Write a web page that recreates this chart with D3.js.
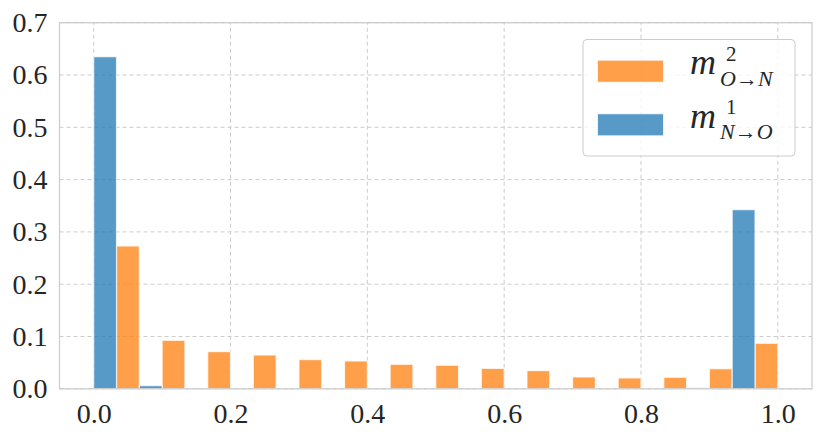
<!DOCTYPE html>
<html>
<head>
<meta charset="utf-8">
<script src="https://cdn.jsdelivr.net/npm/d3@7"></script>
<style>
	body { margin: 0; background: #fff; }
</style>
</head>
<body>
<div id="canvas"></div>
<script>
// 15 equal bins on [0, 1], probability per bin
const binCount = 15;
const blueValues = [0.635, 0.006, 0.0008, 0, 0, 0, 0, 0, 0, 0, 0, 0, 0, 0.002, 0.3425];
const orangeValues = [0.273, 0.0927, 0.0711, 0.0646, 0.0558, 0.0532, 0.0468, 0.045, 0.039, 0.0348, 0.0226, 0.0207, 0.022, 0.0384, 0.087];
const xTicks = [0, 0.2, 0.4, 0.6, 0.8, 1.0];
const yTicks = [0, 0.1, 0.2, 0.3, 0.4, 0.5, 0.6, 0.7];
const legendItems = [
	{ sup: '2', sub: 'O→N', color: '#ff7f0e' },
	{ sup: '1', sub: 'N→O', color: '#1f77b4' }
];

const font = 'Liberation Serif';
const width = 830;
const height = 440;
const margin = { top: 22.7, left: 59.5, bottom: 51.2, right: 18 };

const x = d3.scaleLinear()
	.domain([-0.05, 1.05])
	.range([margin.left, width - margin.right]);

const y = d3.scaleLinear()
	.domain([0, 0.7])
	.range([height - margin.bottom, margin.top]);

const svg = d3.select('#canvas')
	.append('svg')
	.attr('width', width)
	.attr('height', height);

// grid
svg.append('g')
	.selectAll('line')
	.data(yTicks)
	.enter()
	.append('line')
	.attr('x1', x.range()[0])
	.attr('x2', x.range()[1])
	.attr('y1', (d) => y(d))
	.attr('y2', (d) => y(d))
	.attr('stroke', '#cccccc')
	.attr('stroke-width', 1)
	.attr('stroke-dasharray', '4,3');

svg.append('g')
	.selectAll('line')
	.data(xTicks)
	.enter()
	.append('line')
	.attr('x1', (d) => x(d))
	.attr('x2', (d) => x(d))
	.attr('y1', y.range()[0])
	.attr('y2', y.range()[1])
	.attr('stroke', '#cccccc')
	.attr('stroke-width', 1)
	.attr('stroke-dasharray', '4,3');

// dodged bars: blue in left half of each bin, orange in right half
const bins = d3.range(binCount).map((i) => ({
	x0: i / binCount,
	xm: (i + 0.5) / binCount,
	x1: (i + 1) / binCount,
	blue: blueValues[i],
	orange: orangeValues[i]
}));

const bars = svg.append('g');

bars.selectAll('rect.orange')
	.data(bins)
	.enter()
	.append('rect')
	.attr('class', 'orange')
	.attr('x', (d) => x(d.xm))
	.attr('y', (d) => y(d.orange))
	.attr('width', (d) => x(d.x1) - x(d.xm))
	.attr('height', (d) => y(0) - y(d.orange))
	.attr('fill', '#ff7f0e')
	.attr('fill-opacity', 0.75)
	.attr('stroke', '#fff')
	.attr('stroke-opacity', 0.75)
	.attr('stroke-width', 1.2);

bars.selectAll('rect.blue')
	.data(bins.filter((d) => d.blue > 0))
	.enter()
	.append('rect')
	.attr('class', 'blue')
	.attr('x', (d) => x(d.x0))
	.attr('y', (d) => y(d.blue))
	.attr('width', (d) => x(d.xm) - x(d.x0))
	.attr('height', (d) => y(0) - y(d.blue))
	.attr('fill', '#1f77b4')
	.attr('fill-opacity', 0.75)
	.attr('stroke', '#fff')
	.attr('stroke-opacity', 0.75)
	.attr('stroke-width', 1.2);

// frame
svg.append('rect')
	.attr('x', x.range()[0])
	.attr('y', y.range()[1])
	.attr('width', x.range()[1] - x.range()[0])
	.attr('height', y.range()[0] - y.range()[1])
	.attr('fill', 'none')
	.attr('stroke', '#cccccc')
	.attr('stroke-width', 1.25);

// axes
const xAxis = svg.append('g')
	.attr('transform', `translate(0, ${y(0)})`)
	.call(d3.axisBottom(x).tickValues(xTicks).tickFormat(d3.format('.1f')).tickSize(0).tickPadding(14));

const yAxis = svg.append('g')
	.attr('transform', `translate(${x.range()[0]}, 0)`)
	.call(d3.axisLeft(y).tickValues(yTicks).tickFormat(d3.format('.1f')).tickSize(0).tickPadding(12));

[xAxis, yAxis].forEach((a) => {
	a.attr('font-family', null).attr('font-size', null);
	a.select('.domain').remove();
	a.selectAll('text')
		.attr('font-family', font)
		.attr('font-size', 28)
		.attr('fill', '#262626');
});

// legend
const legend = svg.append('g').attr('transform', 'translate(583, 39.5)');

legend.append('rect')
	.attr('width', 212)
	.attr('height', 116.5)
	.attr('rx', 4)
	.attr('fill', '#fff')
	.attr('fill-opacity', 0.8)
	.attr('stroke', '#cccccc')
	.attr('stroke-width', 1);

const rows = legend.selectAll('g.item')
	.data(legendItems)
	.enter()
	.append('g')
	.attr('class', 'item')
	.attr('transform', (d, i) => `translate(0, ${i * 53.6})`);

rows.append('rect')
	.attr('x', 14.5)
	.attr('y', 20.7)
	.attr('width', 66)
	.attr('height', 22)
	.attr('fill', (d) => d.color)
	.attr('fill-opacity', 0.75)
	.attr('stroke', '#fff')
	.attr('stroke-opacity', 0.75);

// m, then superscript and subscript stacked after it
rows.append('text')
	.attr('x', 107)
	.attr('y', 34.5)
	.attr('font-family', font)
	.attr('font-size', 36)
	.attr('font-style', 'italic')
	.attr('fill', '#262626')
	.text('m');

rows.append('text')
	.attr('x', 143)
	.attr('y', 21)
	.attr('font-family', font)
	.attr('font-size', 21)
	.attr('fill', '#262626')
	.text((d) => d.sup);

rows.append('text')
	.attr('x', 137)
	.attr('y', 46)
	.attr('font-family', font)
	.attr('font-size', 22)
	.attr('font-style', 'italic')
	.attr('fill', '#262626')
	.text((d) => d.sub);
</script>
</body>
</html>
